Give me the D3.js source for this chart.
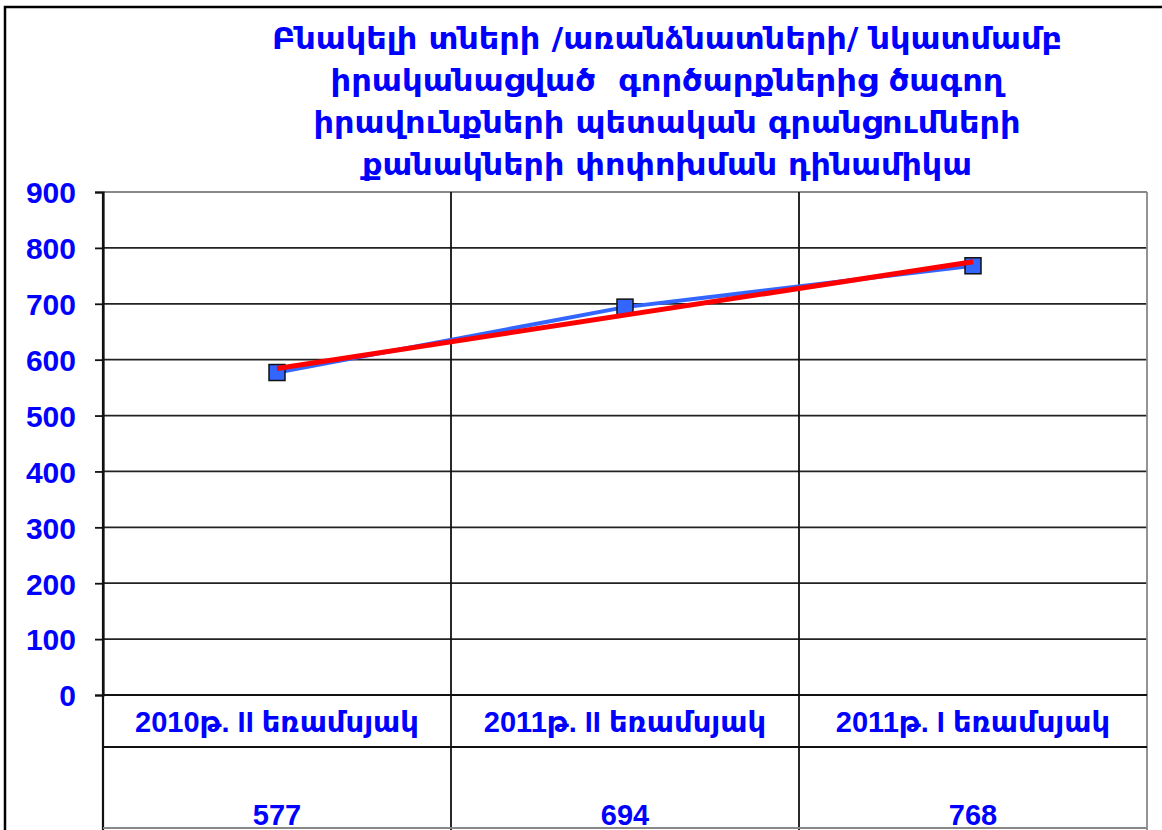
<!DOCTYPE html>
<html>
<head>
<meta charset="utf-8">
<script src="https://cdn.jsdelivr.net/npm/d3@7"></script>
<style>
  body { margin: 0; background: #fff; }
  svg { display: block; }
</style>
</head>
<body>
<div id="chart"></div>
<script>
// chart data
const titleLines = [
    "Բնակելի տների /առանձնատների/ նկատմամբ",
    "իրականացված  գործարքներից ծագող",
    "իրավունքների պետական գրանցումների",
    "քանակների փոփոխման դինամիկա"
];
// approximate rendered width of each title line in the reference
const titleWidths = [790, 673, 707, 610];
const categories = ["2010թ. II եռամսյակ", "2011թ. II եռամսյակ", "2011թ. I եռամսյակ"];
const values = [577, 694, 768];
const yTicks = [0, 100, 200, 300, 400, 500, 600, 700, 800, 900];

const width = 1162, height = 830;
const margin = {top: 192, right: 15, bottom: 135, left: 103};
const blue = "#0000ff";

const svg = d3.select("#chart").append("svg")
    .attr("width", width)
    .attr("height", height);

// outer frame (only left and top visible)
svg.append("path")
    .attr("d", `M5,${height} L5,7 L${width},7`)
    .attr("fill", "none")
    .attr("stroke", "#000")
    .attr("stroke-width", 2.5);

// title
svg.append("g")
    .selectAll("text")
    .data(titleLines)
    .enter()
    .append("text")
    .attr("x", 667)
    .attr("y", (d, i) => 49 + i * 42)
    .attr("text-anchor", "middle")
    .attr("fill", blue)
    .attr("textLength", (d, i) => titleWidths[i])
    .attr("lengthAdjust", "spacingAndGlyphs")
    .style("font-family", "'DejaVu Sans Condensed', 'DejaVu Sans', sans-serif")
    .style("font-weight", "bold")
    .style("font-size", "30px")
    .style("white-space", "pre")
    .text(d => d);

const plotW = width - margin.left - margin.right;
const plotBottom = 695;

const x = d3.scaleBand()
    .domain(categories)
    .range([margin.left, margin.left + plotW]);

const y = d3.scaleLinear()
    .domain([0, 900])
    .range([plotBottom, margin.top]);

// gridlines
svg.append("g")
    .selectAll("line")
    .data(yTicks)
    .enter()
    .append("line")
    .attr("x1", margin.left)
    .attr("x2", margin.left + plotW)
    .attr("y1", d => y(d))
    .attr("y2", d => y(d))
    .attr("stroke", d => d === 900 ? "#888" : "#222")
    .attr("stroke-width", 1.8);

// vertical separators through plot and table
const bounds = categories.map(c => x(c)).concat([margin.left + plotW]);
svg.append("g")
    .selectAll("line")
    .data(bounds)
    .enter()
    .append("line")
    .attr("x1", d => d)
    .attr("x2", d => d)
    .attr("y1", margin.top)
    .attr("y2", height)
    .attr("stroke", (d, i) => i === bounds.length - 1 ? "#888" : "#111")
    .attr("stroke-width", (d, i) => i === 0 ? 2.2 : 1.8);

// table horizontal lines
svg.append("g")
    .selectAll("line")
    .data([plotBottom, 747, 828])
    .enter()
    .append("line")
    .attr("x1", margin.left)
    .attr("x2", margin.left + plotW)
    .attr("y1", d => d)
    .attr("y2", d => d)
    .attr("stroke", (d, i) => i === 2 ? "#888" : "#111")
    .attr("stroke-width", 1.8);

// y axis
const yAxis = svg.append("g")
    .attr("transform", `translate(${margin.left},0)`)
    .call(d3.axisLeft(y).tickValues(yTicks).tickSize(8).tickPadding(19));
yAxis.select(".domain").attr("stroke", "#111").attr("stroke-width", 2.2);
yAxis.selectAll(".tick line").attr("stroke", "#111").attr("stroke-width", 1.8);
yAxis.selectAll(".tick text")
    .attr("fill", blue)
    .attr("dy", "0.36em")
    .style("font-family", "'Liberation Sans', Arial, sans-serif")
    .style("font-weight", "bold")
    .style("font-size", "30px");

// table: category labels and values
const cx = d => x(d) + x.bandwidth() / 2;
svg.append("g")
    .selectAll("text")
    .data(categories)
    .enter()
    .append("text")
    .attr("x", cx)
    .attr("y", 732)
    .attr("text-anchor", "middle")
    .attr("fill", blue)
    .style("font-family", "'Liberation Sans', 'DejaVu Sans', sans-serif")
    .style("font-weight", "bold")
    .style("font-size", "29px")
    .text(d => d);

svg.append("g")
    .selectAll("text")
    .data(values)
    .enter()
    .append("text")
    .attr("x", (d, i) => cx(categories[i]))
    .attr("y", 825)
    .attr("text-anchor", "middle")
    .attr("fill", blue)
    .style("font-family", "'Liberation Sans', Arial, sans-serif")
    .style("font-weight", "bold")
    .style("font-size", "29px")
    .text(d => d);

// data line
const pts = values.map((v, i) => [cx(categories[i]), y(v)]);
svg.append("path")
    .attr("d", d3.line()(pts))
    .attr("fill", "none")
    .attr("stroke", "#3366ff")
    .attr("stroke-width", 4);

// markers
svg.append("g")
    .selectAll("rect")
    .data(pts)
    .enter()
    .append("rect")
    .attr("x", d => d[0] - 8)
    .attr("y", d => d[1] - 8)
    .attr("width", 16)
    .attr("height", 16)
    .attr("fill", "#3366ff")
    .attr("stroke", "#111")
    .attr("stroke-width", 1.5);

// linear trend line (least squares fit of the values), drawn over the markers
const n = values.length;
const xs = d3.range(n);
const mx = d3.mean(xs), my = d3.mean(values);
const slope = d3.sum(xs, i => (i - mx) * (values[i] - my)) / d3.sum(xs, i => (i - mx) * (i - mx));
const trend = xs.map(i => [cx(categories[i]), y(my + slope * (i - mx))]);
svg.append("path")
    .attr("d", d3.line()([trend[0], trend[n - 1]]))
    .attr("fill", "none")
    .attr("stroke", "#ff0000")
    .attr("stroke-width", 5);
</script>
</body>
</html>
